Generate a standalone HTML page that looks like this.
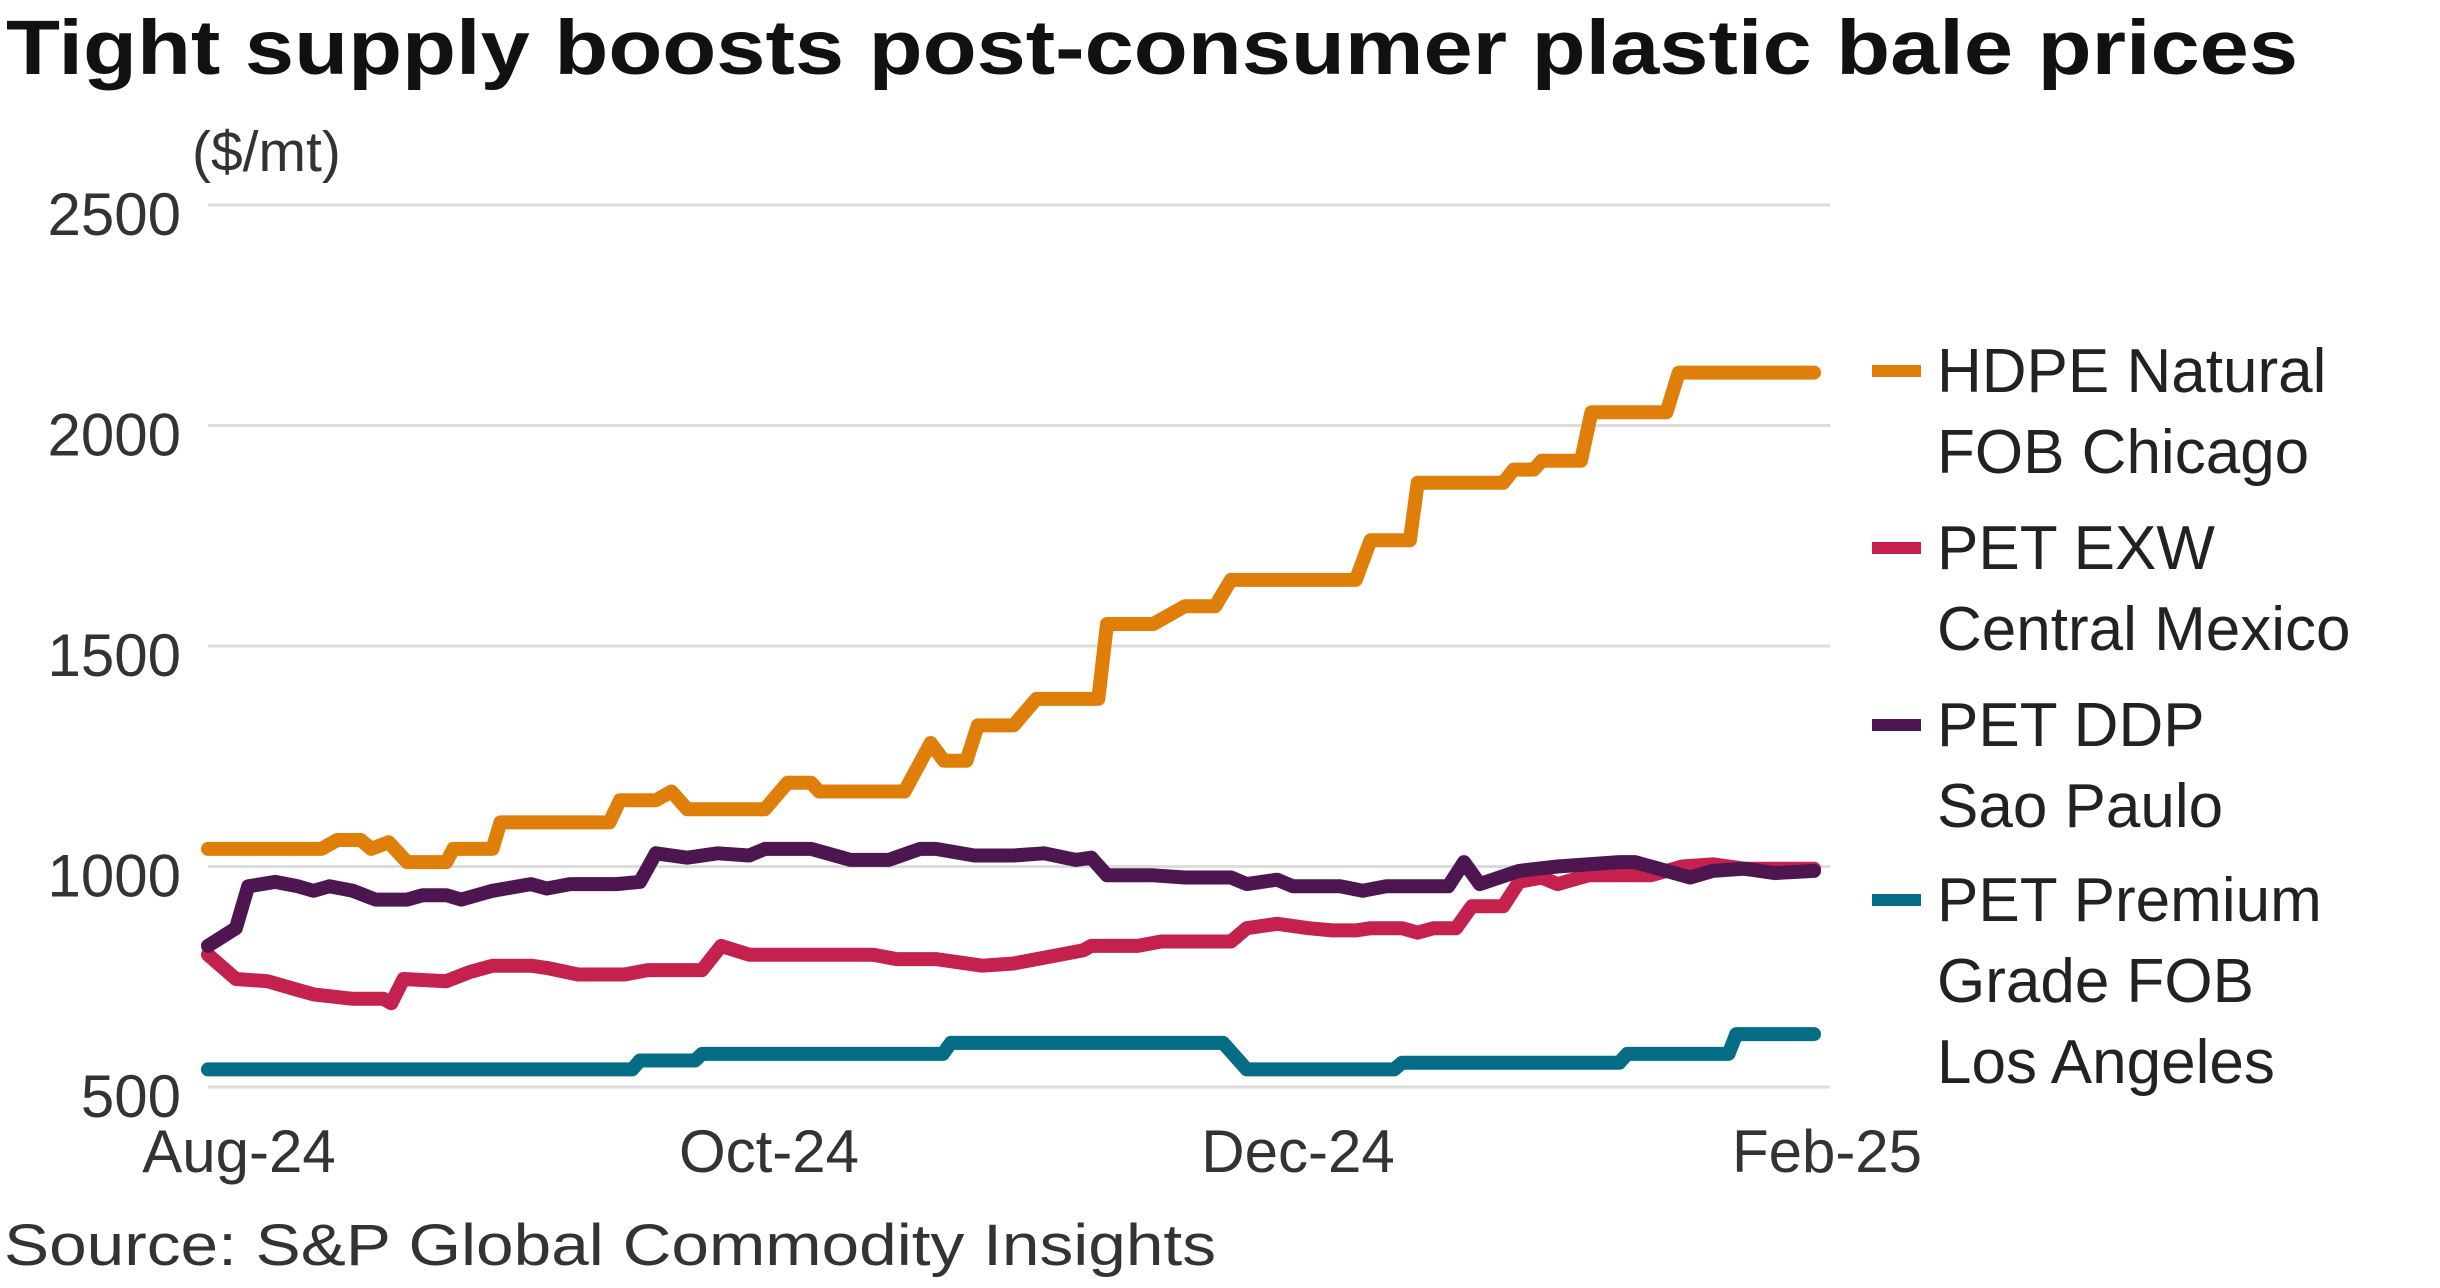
<!DOCTYPE html>
<html><head><meta charset="utf-8">
<style>
html,body{margin:0;padding:0;background:#fff;}
svg{display:block;font-family:"Liberation Sans",sans-serif;}
</style></head>
<body>
<svg id="chart" width="2440" height="1288" viewBox="0 0 2440 1288">
<text x="6" y="74" font-size="77" font-weight="bold" fill="#111" textLength="2292" lengthAdjust="spacingAndGlyphs">Tight supply boosts post-consumer plastic bale prices</text>
<text x="192" y="171" font-size="57" fill="#333">($/mt)</text>
<g id="grid"></g>
<g id="yticks"></g>
<g id="xticks"></g>
<g id="lines"></g>
<g id="legend"></g>
<text x="4" y="1265" font-size="58" fill="#333" textLength="1212" lengthAdjust="spacingAndGlyphs">Source: S&amp;P Global Commodity Insights</text>
</svg>
<script>
// Day offsets from 1 Aug 2024; values in $/mt
const yTicks = [500, 1000, 1500, 2000, 2500];
const xTickLabels = ["Aug-24", "Oct-24", "Dec-24", "Feb-25"];
const xTickDays = [5, 66, 126, 184];

const hdpeDays = [0,13,14.8,17.5,18.7,20.7,22.8,27.3,28.1,32.6,33.5,46,47.2,51.3,53.1,54.9,63.8,66.4,69.1,70,79.8,82.8,84.3,86.9,88.2,92.3,94.9,102,103,108.3,111.9,115.4,117.2,131.5,133.2,137.7,138.6,148.4,149.6,151.9,152.8,157.3,158.5,167.1,168.5,184];
const hdpeVals = [1040,1040,1060,1060,1040,1055,1010,1010,1040,1040,1100,1100,1150,1150,1170,1130,1130,1190,1190,1170,1170,1280,1240,1240,1320,1320,1380,1380,1550,1550,1590,1590,1650,1650,1740,1740,1870,1870,1900,1900,1920,1920,2030,2030,2120,2120];

const exwDays = [0,3.2,6.8,10.3,12.1,16.6,20.1,21,22.4,27.3,29.9,32.6,37,38.8,42.4,47.7,50.4,56.6,58.8,62,76.2,78.9,83.4,88.7,92.3,97.6,100.3,101.2,106.5,109.2,117.2,119,122.5,126.1,128.8,131.5,133.2,136.8,138.6,140.4,143,144.8,148.4,150.2,152.8,154.6,158.2,165.3,168.9,172.4,176,184];
const exwVals = [800,745,740,720,710,700,700,690,745,740,760,775,775,770,755,755,765,765,820,800,800,790,790,775,780,800,810,820,820,830,830,860,870,860,855,855,860,860,850,860,860,910,910,965,975,960,980,980,1000,1005,995,995];

const ddpDays = [0,3.2,4.6,7.7,10.3,12.1,13.9,16.6,19.2,22.8,24.6,27.3,29,32.6,37,38.8,41.5,46.8,49.5,51.3,54.9,58.4,62,63.8,69.1,70.9,73.6,78,81.6,83.4,87.8,92.3,95.8,99.4,101.2,103,108.3,111.9,117.2,119,122.5,124.3,129.7,132.3,135,142.1,143.9,145.7,150.2,154.6,161.7,163.5,169.8,172.4,176,179.5,184];
const ddpVals = [820,860,955,965,955,945,955,945,925,925,935,935,925,945,960,950,960,960,965,1030,1020,1030,1025,1040,1040,1030,1015,1015,1040,1040,1025,1025,1030,1015,1020,980,980,975,975,960,970,955,955,945,955,955,1010,960,990,1000,1010,1010,975,990,995,985,990];

const premDays = [0,48.6,49.5,55.8,56.6,84.2,85.1,116.3,119,135.9,136.8,161.7,162.6,174.2,175.1,184];
const premVals = [540,540,560,560,575,575,600,600,540,540,555,555,575,575,620,620];

const seriesNames = ["HDPE Natural FOB Chicago","PET EXW Central Mexico","PET DDP Sao Paulo","PET Premium Grade FOB Los Angeles"];
const seriesColors = ["#df7f0a","#c4214f","#4e1651","#056c86"];

const NS = "http://www.w3.org/2000/svg";
const X0 = 208, X1 = 1814, DMAX = 184;
const Y500 = 1087, Y2500 = 205;
function xs(d){ return X0 + (d / DMAX) * (X1 - X0); }
function ys(v){ return Y500 + (v - 500) / 2000 * (Y2500 - Y500); }
function mk(tag, attrs, parent){ const e = document.createElementNS(NS, tag); for (const k in attrs) e.setAttribute(k, attrs[k]); parent.appendChild(e); return e; }

const grid = document.getElementById('grid');
const yt = document.getElementById('yticks');
yTicks.forEach(v => {
  const l = mk('line', {x1: X0, x2: 1830, y1: ys(v), y2: ys(v), stroke: '#dcdcdc', 'stroke-width': 3}, grid);
  
  
  const t = mk('text', {x: 181, y: ys(v) + 30, 'font-size': 60, fill: '#333', 'text-anchor': 'end'}, yt);
  t.textContent = v;
  
  
});
const xt = document.getElementById('xticks');
const xLabelPos = [239, 769, 1298, 1827];
xTickLabels.forEach((lab, i) => {
  const t = mk('text', {x: xLabelPos[i], y: 1172, 'font-size': 60, fill: '#333', 'text-anchor': 'middle'}, xt);
  t.textContent = lab;
  
  
});

const lines = document.getElementById('lines');
const allDays = [hdpeDays, exwDays, ddpDays, premDays];
const allVals = [hdpeVals, exwVals, ddpVals, premVals];
const order = [3, 0, 1, 2];
const lineNames = ['line-hdpe-chicago','line-pet-exw-mexico','line-pet-ddp-sao-paulo','line-pet-premium-la'];
order.forEach(i => {
  const pts = allDays[i].map((d, k) => xs(d).toFixed(1) + ',' + ys(allVals[i][k]).toFixed(1)).join(' ');
  const p = mk('polyline', {points: pts, fill: 'none', stroke: seriesColors[i], 'stroke-width': 14, 'stroke-linejoin': 'round', 'stroke-linecap': 'round'}, lines);
  
  
});

const leg = document.getElementById('legend');
const legLines = [["HDPE Natural","FOB Chicago"],["PET EXW","Central Mexico"],["PET DDP","Sao Paulo"],["PET Premium","Grade FOB","Los Angeles"]];
const legSwY = [371, 548, 725, 900];
const legKeys = ['hdpe','pet-exw','pet-ddp','pet-premium'];
legLines.forEach((ls, i) => {
  const g = mk('g', {}, leg);
  
  
  const r = mk('rect', {x: 1872, y: legSwY[i] - 6, width: 49, height: 12, fill: seriesColors[i]}, g);
  
  
  ls.forEach((s, k) => {
    const t = mk('text', {x: 1937, y: legSwY[i] + 21 + k * 81, 'font-size': 62, fill: '#222'}, g);
    t.textContent = s;
    
    
  });
});
</script>
</body></html>
